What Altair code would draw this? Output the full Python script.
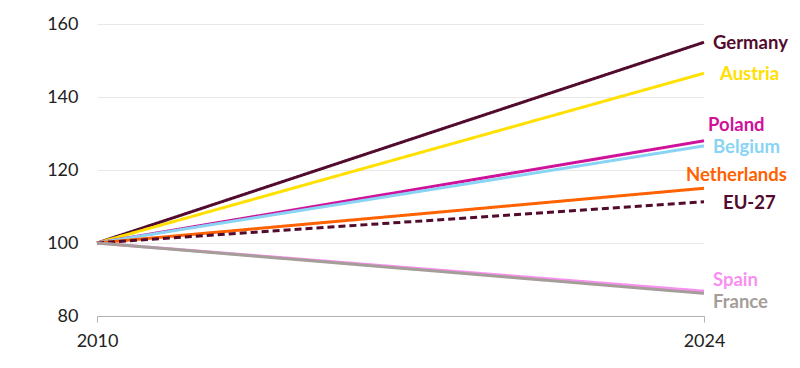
import altair as alt
import pandas as pd

countries = ["Germany", "Austria", "Poland", "Belgium", "Netherlands", "EU-27", "Spain", "France"]
years = [2010, 2024]
start_values = [100, 100, 100, 100, 100, 100, 100, 100]
end_values = [155.0, 146.5, 128.0, 126.6, 115.0, 111.3, 86.8, 86.2]
colors = ["#520a2d", "#ffe000", "#d0119a", "#89d4f5", "#ff6200", "#520a2d", "#f98ff0", "#a59d98"]
dashed = [False, False, False, False, False, True, False, False]
y_ticks = [80, 100, 120, 140, 160]

rows = []
for c, s, e, d in zip(countries, start_values, end_values, dashed):
    rows.append({"country": c, "year": years[0], "value": s, "dash": "dash" if d else "solid"})
    rows.append({"country": c, "year": years[1], "value": e, "dash": "dash" if d else "solid"})
df = pd.DataFrame(rows)
lab = pd.DataFrame({"country": countries, "year": [years[1]] * len(countries), "value": end_values})

FONT = "Lato"

x = alt.X("year:Q", scale=alt.Scale(domain=[2010, 2024], nice=False, zero=False),
          axis=alt.Axis(values=years, format="d", title=None, grid=False, domain=True,
                        domainColor="#b3b3b3", tickColor="#b3b3b3", tickSize=6,
                        labelFlush=False, labelFontSize=18, labelColor="#222222",
                        labelPadding=10, labelFont=FONT))
y = alt.Y("value:Q", scale=alt.Scale(domain=[80, 160], nice=False, zero=False),
          axis=alt.Axis(values=y_ticks, title=None, domain=False, ticks=False,
                        gridColor="#e8e8e8", labelFontSize=18, labelColor="#222222",
                        labelPadding=19, labelFont=FONT))

lines = alt.Chart(df).mark_line(strokeWidth=3).encode(
    x=x, y=y,
    color=alt.Color("country:N", scale=alt.Scale(domain=countries, range=colors), legend=None),
    strokeDash=alt.StrokeDash("dash:N", scale=alt.Scale(domain=["solid", "dash"], range=[[1, 0], [7, 4]]), legend=None),
    detail="country:N",
)

# label offsets (dx, dy) relative to line end
offsets = {
    "Germany": (9, 1),
    "Austria": (16, 1),
    "Poland": (4, -16),
    "Belgium": (9, 1),
    "Netherlands": (-18, -13),
    "EU-27": (19, 1),
    "Spain": (9, -11),
    "France": (9, 9),
}

layers = [lines]
for c, col in zip(countries, colors):
    dx, dy = offsets[c]
    layers.append(
        alt.Chart(lab[lab.country == c]).mark_text(
            align="left", baseline="middle", dx=dx, dy=dy, fontSize=18.5,
            fontWeight="bold", font=FONT, color=col
        ).encode(x=alt.X("year:Q"), y=alt.Y("value:Q"), text="country:N")
    )

chart = alt.layer(*layers).properties(
    width=607, height=292,
    background="white",
    autosize=alt.AutoSizeParams(type="none"),
    padding={"left": 97, "top": 24, "right": 96, "bottom": 52},
).configure_view(stroke=None)

chart.save("out.html", embed_options={"renderer": "svg", "actions": False})
